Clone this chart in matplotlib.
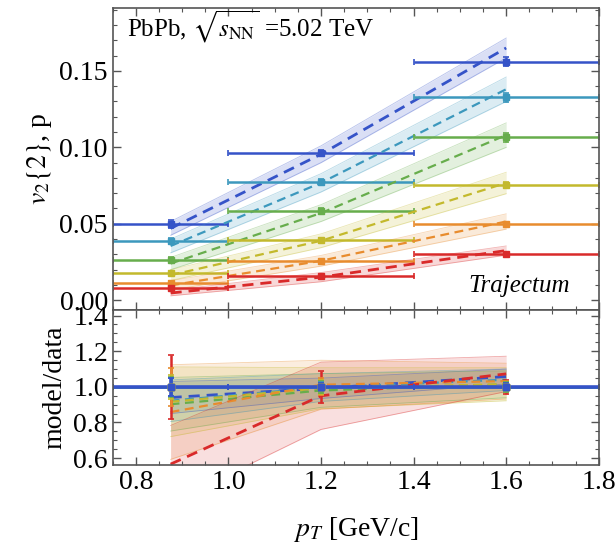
import numpy as np
import matplotlib.pyplot as plt
from matplotlib.ticker import MultipleLocator

plt.rcParams["font.family"] = ["Liberation Serif", "DejaVu Serif"]
plt.rcParams["mathtext.fontset"] = "stix"

# pT bins [GeV/c]
pt_center = [0.875, 1.2, 1.6]
pt_left = [0.75, 1.0, 1.4]
pt_right = [1.0, 1.4, 1.8]

# series order: blue, cyan, green, yellow, orange, red
colors = ["#3553c8", "#3c98bd", "#67ad4c", "#c3b92c", "#e88c2e", "#d92a2a"]

# measured v2{2} of protons and uncertainty
v2_data = [
    [0.0500, 0.0963, 0.1560],
    [0.0385, 0.0771, 0.1327],
    [0.0266, 0.0582, 0.1065],
    [0.0179, 0.0392, 0.0756],
    [0.0113, 0.0255, 0.0499],
    [0.0083, 0.0159, 0.0303],
]
v2_err = [
    [0.0025, 0.0020, 0.0030],
    [0.0020, 0.0020, 0.0030],
    [0.0015, 0.0020, 0.0030],
    [0.0012, 0.0015, 0.0020],
    [0.0012, 0.0012, 0.0015],
    [0.0015, 0.0014, 0.0012],
]

# Trajectum model prediction and band half width
v2_model = [
    [0.0470, 0.0955, 0.1650],
    [0.0355, 0.0768, 0.1380],
    [0.0240, 0.0570, 0.1080],
    [0.0164, 0.0389, 0.0767],
    [0.0097, 0.0258, 0.0515],
    [0.0047, 0.0151, 0.0325],
]
v2_band = [
    [0.0045, 0.0055, 0.0065],
    [0.0045, 0.0060, 0.0080],
    [0.0040, 0.0055, 0.0080],
    [0.0035, 0.0045, 0.0070],
    [0.0030, 0.0035, 0.0050],
    [0.0018, 0.0030, 0.0030],
]

fig = plt.figure(figsize=(6.16, 5.48), dpi=100)
ax = fig.add_axes([0.183, 0.434, 0.789, 0.551])
axr = fig.add_axes([0.183, 0.151, 0.789, 0.283], sharex=ax)

x = np.array(pt_center)
xerr = [x - np.array(pt_left), np.array(pt_right) - x]

for i, c in enumerate(colors):
    d = np.array(v2_data[i])
    e = np.array(v2_err[i])
    m = np.array(v2_model[i])
    b = np.array(v2_band[i])
    lw = 2.0 if i in (0, 5) else 1.6

    # top panel
    ax.fill_between(x, m - b, m + b, color=c, alpha=0.18, lw=0)
    ax.plot(x, m - b, color=c, lw=0.6, alpha=0.35)
    ax.plot(x, m + b, color=c, lw=0.6, alpha=0.35)
    ax.plot(x, m, color=c, lw=lw, ls=(0, (4, 2.5)))
    ax.errorbar(x, d, xerr=xerr, yerr=e, fmt="s", ms=4, color=c, lw=1.8,
                capsize=2.5, capthick=1.2, clip_on=True)

    # ratio panel
    axr.fill_between(x, (m - b) / d, (m + b) / d, color=c, alpha=0.15, lw=0)
    axr.plot(x, (m - b) / d, color=c, lw=0.6, alpha=0.4)
    axr.plot(x, (m + b) / d, color=c, lw=0.6, alpha=0.4)
    axr.plot(x, m / d, color=c, lw=lw, ls=(0, (4, 2.5)))

for i, c in reversed(list(enumerate(colors))):
    d = np.array(v2_data[i])
    e = np.array(v2_err[i])
    lw = 2.6 if i == 0 else 1.8
    axr.errorbar(x, np.ones_like(x), xerr=xerr, yerr=e / d, fmt="s", ms=4,
                 color=c, lw=lw, capsize=2.5, capthick=1.2)

ax.set_xlim(0.75, 1.8)
ax.set_ylim(-0.0065, 0.191)
axr.set_ylim(0.56, 1.43)

ax.yaxis.set_major_locator(MultipleLocator(0.05))
ax.yaxis.set_minor_locator(MultipleLocator(0.01))
ax.yaxis.set_major_formatter(plt.FuncFormatter(lambda v, p: f"{v:.2f}"))
axr.yaxis.set_major_locator(MultipleLocator(0.2))
axr.yaxis.set_minor_locator(MultipleLocator(0.05))
axr.yaxis.set_major_formatter(plt.FuncFormatter(lambda v, p: f"{v:.1f}"))
axr.xaxis.set_major_locator(MultipleLocator(0.2))
axr.xaxis.set_minor_locator(MultipleLocator(0.05))
axr.xaxis.set_major_formatter(plt.FuncFormatter(lambda v, p: f"{v:.1f}"))

for a in (ax, axr):
    a.tick_params(which="both", direction="in", top=True, right=True,
                  colors="#555555", labelcolor="black", labelsize=20)
    a.tick_params(which="major", length=6, width=1)
    a.tick_params(which="minor", length=3, width=0.8)
    for s in a.spines.values():
        s.set_color("#555555")
        s.set_linewidth(1.2)
ax.tick_params(labelbottom=False)

ax.set_ylabel(r"$v_2\{2\}$, p", fontsize=20)
axr.set_ylabel("model/data", fontsize=20)
axr.set_xlabel(r"$p_T$ [GeV/c]", fontsize=20, labelpad=14)
fig.align_ylabels([ax, axr])

ax.text(0.03, 0.94, r"PbPb, $\sqrt{s_{\rm NN}}$ =5.02 TeV", transform=ax.transAxes,
        fontsize=18, va="center", ha="left")
ax.text(0.94, 0.08, "Trajectum", transform=ax.transAxes, fontsize=18,
        style="italic", va="center", ha="right")

fig.savefig("out.png", dpi=100)
